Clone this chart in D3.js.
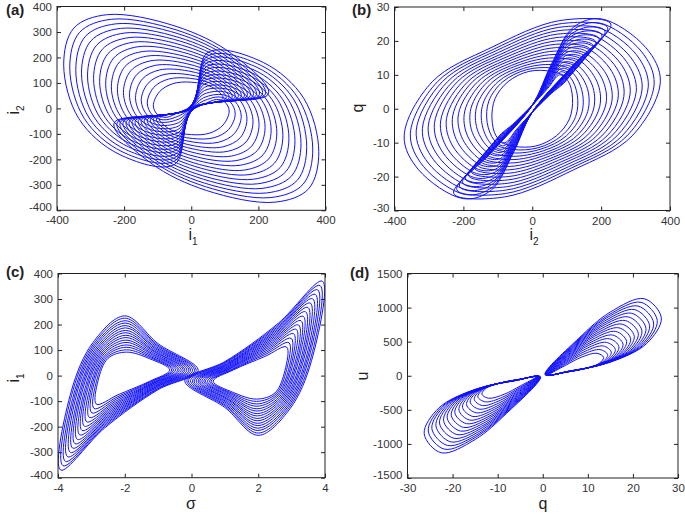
<!DOCTYPE html>
<html>
<head>
<meta charset="utf-8">
<script src="https://cdn.jsdelivr.net/npm/d3@7"></script>
<style>
  body { margin: 0; background: #fff; }
  svg text { font-family: "Liberation Sans", Arial, sans-serif; }
</style>
</head>
<body>
<div id="graph_plot"></div>
<script>
// ---- loops, each one a list of [x, y] points ----

// (a) i1 vs i2 : loops reaching the upper left, loops reaching the lower right
const loopsA_upper = [
  [[95,40],[60,85],[0,103],[-55,97],[-95,65],[-113,10],[-100,-25],[-75,-35],[-35,-15],[10,8]],
  [[104,41],[64,94],[-3,118],[-68,115],[-112,82],[-131,21],[-116,-26],[-84,-45],[-36,-29],[10,7]],
  [[113,42],[68,102],[-6,132],[-81,133],[-129,98],[-149,31],[-131,-27],[-94,-54],[-37,-42],[9,6]],
  [[122,44],[72,111],[-9,147],[-94,151],[-146,115],[-166,42],[-147,-28],[-103,-64],[-38,-56],[9,5]],
  [[131,45],[76,120],[-12,161],[-107,169],[-163,132],[-184,53],[-163,-29],[-112,-74],[-39,-70],[9,5]],
  [[140,46],[80,128],[-15,176],[-120,187],[-180,148],[-202,63],[-178,-30],[-122,-83],[-40,-83],[8,4]],
  [[149,47],[84,137],[-18,191],[-133,205],[-197,165],[-220,74],[-194,-31],[-131,-93],[-41,-97],[8,3]],
  [[158,48],[88,146],[-21,205],[-146,223],[-214,182],[-238,85],[-210,-32],[-140,-103],[-42,-111],[8,2]],
  [[167,50],[92,154],[-24,220],[-159,242],[-231,198],[-255,95],[-225,-33],[-150,-112],[-43,-124],[7,1]],
  [[176,51],[96,163],[-27,234],[-172,260],[-248,215],[-273,106],[-241,-34],[-159,-122],[-44,-138],[7,0]],
  [[185,52],[100,172],[-30,249],[-185,278],[-265,232],[-291,117],[-257,-35],[-168,-132],[-45,-152],[7,-1]],
  [[194,53],[104,180],[-33,264],[-198,296],[-282,248],[-309,127],[-272,-36],[-178,-141],[-46,-165],[6,-2]],
  [[203,54],[108,189],[-36,278],[-211,314],[-299,265],[-327,138],[-288,-37],[-187,-151],[-47,-179],[6,-2]],
  [[212,56],[112,198],[-39,293],[-224,332],[-316,282],[-344,149],[-304,-38],[-196,-161],[-48,-193],[6,-3]],
  [[221,57],[116,206],[-42,307],[-237,350],[-333,298],[-362,159],[-319,-39],[-206,-170],[-49,-206],[5,-4]],
  [[230,58],[120,215],[-45,322],[-250,368],[-350,315],[-380,170],[-335,-40],[-215,-180],[-50,-220],[5,-5]]
];
const loopsA_lower = [
  [[-95,-40],[-60,-85],[0,-103],[55,-97],[95,-65],[113,-10],[100,25],[75,35],[35,15],[-10,-8]],
  [[-104,-41],[-64,-94],[3,-118],[68,-115],[112,-82],[131,-21],[116,26],[84,45],[36,29],[-10,-7]],
  [[-113,-42],[-68,-102],[6,-132],[81,-133],[129,-98],[149,-31],[131,27],[94,54],[37,42],[-9,-6]],
  [[-122,-44],[-72,-111],[9,-147],[94,-151],[146,-115],[166,-42],[147,28],[103,64],[38,56],[-9,-5]],
  [[-131,-45],[-76,-120],[12,-161],[107,-169],[163,-132],[184,-53],[163,29],[112,74],[39,70],[-9,-5]],
  [[-140,-46],[-80,-128],[15,-176],[120,-187],[180,-148],[202,-63],[178,30],[122,83],[40,83],[-8,-4]],
  [[-149,-47],[-84,-137],[18,-191],[133,-205],[197,-165],[220,-74],[194,31],[131,93],[41,97],[-8,-3]],
  [[-158,-48],[-88,-146],[21,-205],[146,-223],[214,-182],[238,-85],[210,32],[140,103],[42,111],[-8,-2]],
  [[-167,-50],[-92,-154],[24,-220],[159,-242],[231,-198],[255,-95],[225,33],[150,112],[43,124],[-7,-1]],
  [[-176,-51],[-96,-163],[27,-234],[172,-260],[248,-215],[273,-106],[241,34],[159,122],[44,138],[-7,0]],
  [[-185,-52],[-100,-172],[30,-249],[185,-278],[265,-232],[291,-117],[257,35],[168,132],[45,152],[-7,1]],
  [[-194,-53],[-104,-180],[33,-264],[198,-296],[282,-248],[309,-127],[272,36],[178,141],[46,165],[-6,2]],
  [[-203,-54],[-108,-189],[36,-278],[211,-314],[299,-265],[327,-138],[288,37],[187,151],[47,179],[-6,2]],
  [[-212,-56],[-112,-198],[39,-293],[224,-332],[316,-282],[344,-149],[304,38],[196,161],[48,193],[-6,3]],
  [[-221,-57],[-116,-206],[42,-307],[237,-350],[333,-298],[362,-159],[319,39],[206,170],[49,206],[-5,4]],
  [[-230,-58],[-120,-215],[45,-322],[250,-368],[350,-315],[380,-170],[335,40],[215,180],[50,220],[-5,5]]
];

// (b) i2 vs q
const loopsB_right = [
  [[-100,-9],[-50,-4],[0,1],[45,6],[80,10],[105,8],[117,3],[108,-3],[70,-8],[10,-11],[-55,-11]],
  [[-109,-10.1],[-55,-4.6],[0,1],[46,6.5],[83,10.9],[111,9.2],[131,4],[126,-2.3],[85,-8],[17,-11.5],[-57,-12]],
  [[-117,-11.1],[-59,-5.2],[0,1],[46,6.9],[85,11.9],[118,10.5],[145,5],[143,-1.5],[99,-8],[25,-11.9],[-58,-13]],
  [[-126,-12.2],[-64,-5.8],[0,1],[47,7.4],[88,12.8],[124,11.7],[160,6],[161,-0.8],[114,-8],[32,-12.4],[-60,-14]],
  [[-134,-13.3],[-69,-6.4],[0,1],[48,7.9],[90,13.7],[130,12.9],[174,7],[178,-0.1],[129,-8],[39,-12.9],[-62,-15]],
  [[-143,-14.3],[-73,-7],[0,1],[48,8.3],[93,14.7],[137,14.2],[188,8],[196,0.7],[143,-8],[47,-13.3],[-63,-16]],
  [[-151,-15.4],[-78,-7.6],[0,1],[49,8.8],[96,15.6],[143,15.4],[202,9],[214,1.4],[158,-8],[54,-13.8],[-65,-17]],
  [[-160,-16.5],[-83,-8.2],[0,1],[50,9.3],[98,16.5],[149,16.6],[216,10],[231,2.1],[173,-8],[61,-14.3],[-67,-18]],
  [[-168,-17.5],[-87,-8.8],[0,1],[50,9.7],[101,17.5],[156,17.9],[231,11],[249,2.9],[187,-8],[69,-14.7],[-68,-19]],
  [[-177,-18.6],[-92,-9.4],[0,1],[51,10.2],[103,18.4],[162,19.1],[245,12],[266,3.6],[202,-8],[76,-15.2],[-70,-20]],
  [[-185,-19.7],[-97,-10],[0,1],[52,10.7],[106,19.3],[168,20.3],[259,13],[284,4.3],[217,-8],[83,-15.7],[-72,-21]],
  [[-194,-20.7],[-101,-10.6],[0,1],[52,11.1],[109,20.3],[175,21.6],[273,14],[302,5.1],[231,-8],[91,-16.1],[-73,-22]],
  [[-202,-21.8],[-106,-11.2],[0,1],[53,11.6],[111,21.2],[181,22.8],[287,15],[319,5.8],[246,-8],[98,-16.6],[-75,-23]],
  [[-211,-22.9],[-111,-11.8],[0,1],[54,12.1],[114,22.1],[187,24],[302,16],[337,6.5],[261,-8],[105,-17.1],[-77,-24]],
  [[-219,-23.9],[-115,-12.4],[0,1],[54,12.5],[116,23.1],[194,25.3],[316,17],[354,7.3],[275,-8],[113,-17.5],[-78,-25]],
  [[-228,-25],[-120,-13],[0,1],[55,13],[119,24],[200,26.5],[330,18],[372,8],[290,-8],[120,-18],[-80,-26]]
];
const loopsB_left = [
  [[100,9],[50,4],[0,-1],[-45,-6],[-80,-10],[-105,-8],[-117,-3],[-108,3],[-70,8],[-10,11],[55,11]],
  [[109,10.1],[55,4.6],[0,-1],[-46,-6.5],[-83,-10.9],[-111,-9.2],[-131,-4],[-126,2.3],[-85,8],[-17,11.5],[57,12]],
  [[117,11.1],[59,5.2],[0,-1],[-46,-6.9],[-85,-11.9],[-118,-10.5],[-145,-5],[-143,1.5],[-99,8],[-25,11.9],[58,13]],
  [[126,12.2],[64,5.8],[0,-1],[-47,-7.4],[-88,-12.8],[-124,-11.7],[-160,-6],[-161,0.8],[-114,8],[-32,12.4],[60,14]],
  [[134,13.3],[69,6.4],[0,-1],[-48,-7.9],[-90,-13.7],[-130,-12.9],[-174,-7],[-178,0.1],[-129,8],[-39,12.9],[62,15]],
  [[143,14.3],[73,7],[0,-1],[-48,-8.3],[-93,-14.7],[-137,-14.2],[-188,-8],[-196,-0.7],[-143,8],[-47,13.3],[63,16]],
  [[151,15.4],[78,7.6],[0,-1],[-49,-8.8],[-96,-15.6],[-143,-15.4],[-202,-9],[-214,-1.4],[-158,8],[-54,13.8],[65,17]],
  [[160,16.5],[83,8.2],[0,-1],[-50,-9.3],[-98,-16.5],[-149,-16.6],[-216,-10],[-231,-2.1],[-173,8],[-61,14.3],[67,18]],
  [[168,17.5],[87,8.8],[0,-1],[-50,-9.7],[-101,-17.5],[-156,-17.9],[-231,-11],[-249,-2.9],[-187,8],[-69,14.7],[68,19]],
  [[177,18.6],[92,9.4],[0,-1],[-51,-10.2],[-103,-18.4],[-162,-19.1],[-245,-12],[-266,-3.6],[-202,8],[-76,15.2],[70,20]],
  [[185,19.7],[97,10],[0,-1],[-52,-10.7],[-106,-19.3],[-168,-20.3],[-259,-13],[-284,-4.3],[-217,8],[-83,15.7],[72,21]],
  [[194,20.7],[101,10.6],[0,-1],[-52,-11.1],[-109,-20.3],[-175,-21.6],[-273,-14],[-302,-5.1],[-231,8],[-91,16.1],[73,22]],
  [[202,21.8],[106,11.2],[0,-1],[-53,-11.6],[-111,-21.2],[-181,-22.8],[-287,-15],[-319,-5.8],[-246,8],[-98,16.6],[75,23]],
  [[211,22.9],[111,11.8],[0,-1],[-54,-12.1],[-114,-22.1],[-187,-24],[-302,-16],[-337,-6.5],[-261,8],[-105,17.1],[77,24]],
  [[219,23.9],[115,12.4],[0,-1],[-54,-12.5],[-116,-23.1],[-194,-25.3],[-316,-17],[-354,-7.3],[-275,8],[-113,17.5],[78,25]],
  [[228,25],[120,13],[0,-1],[-55,-13],[-119,-24],[-200,-26.5],[-330,-18],[-372,-8],[-290,8],[-120,18],[80,26]]
];

// (c) sigma vs i1
const loopsC_left = [
  [[-2.85,-112],[-2.80,-20],[-2.50,68],[-1.95,92],[-1.25,66],[-0.65,22],[-1.25,-22],[-2.20,-75]],
  [[-2.92,-129],[-2.85,-23],[-2.53,72],[-1.95,101],[-1.23,70],[-0.59,22],[-1.23,-24],[-2.23,-84]],
  [[-2.99,-146],[-2.91,-25],[-2.56,76],[-1.96,111],[-1.22,74],[-0.54,22],[-1.22,-26],[-2.25,-92]],
  [[-3.06,-164],[-2.96,-28],[-2.59,80],[-1.96,120],[-1.20,78],[-0.48,22],[-1.20,-29],[-2.28,-101]],
  [[-3.14,-181],[-3.01,-31],[-2.62,85],[-1.96,130],[-1.18,82],[-0.42,21],[-1.18,-31],[-2.31,-110]],
  [[-3.21,-198],[-3.07,-33],[-2.65,89],[-1.97,139],[-1.17,86],[-0.37,21],[-1.17,-33],[-2.33,-118]],
  [[-3.28,-215],[-3.12,-36],[-2.68,93],[-1.97,149],[-1.15,90],[-0.31,21],[-1.15,-35],[-2.36,-127]],
  [[-3.35,-232],[-3.17,-39],[-2.71,97],[-1.97,158],[-1.13,94],[-0.25,21],[-1.13,-37],[-2.39,-136]],
  [[-3.42,-250],[-3.23,-41],[-2.74,101],[-1.98,168],[-1.12,97],[-0.20,21],[-1.12,-40],[-2.41,-144]],
  [[-3.49,-267],[-3.28,-44],[-2.77,105],[-1.98,177],[-1.10,101],[-0.14,21],[-1.10,-42],[-2.44,-153]],
  [[-3.56,-284],[-3.33,-47],[-2.80,109],[-1.98,187],[-1.08,105],[-0.08,21],[-1.08,-44],[-2.47,-162]],
  [[-3.63,-301],[-3.39,-49],[-2.83,113],[-1.99,196],[-1.07,109],[-0.03,21],[-1.07,-46],[-2.49,-170]],
  [[-3.71,-318],[-3.44,-52],[-2.86,118],[-1.99,206],[-1.05,113],[0.03,20],[-1.05,-48],[-2.52,-179]],
  [[-3.78,-336],[-3.49,-55],[-2.89,122],[-1.99,215],[-1.03,117],[0.09,20],[-1.03,-51],[-2.55,-188]],
  [[-3.85,-353],[-3.55,-57],[-2.92,126],[-2.00,225],[-1.02,121],[0.14,20],[-1.02,-53],[-2.57,-196]],
  [[-3.92,-370],[-3.60,-60],[-2.95,130],[-2.00,234],[-1.00,125],[0.20,20],[-1.00,-55],[-2.60,-205]]
];
const loopsC_right = [
  [[2.85,112],[2.80,20],[2.50,-68],[1.95,-92],[1.25,-66],[0.65,-22],[1.25,22],[2.20,75]],
  [[2.92,129],[2.85,23],[2.53,-72],[1.95,-101],[1.23,-70],[0.59,-22],[1.23,24],[2.23,84]],
  [[2.99,146],[2.91,25],[2.56,-76],[1.96,-111],[1.22,-74],[0.54,-22],[1.22,26],[2.25,92]],
  [[3.06,164],[2.96,28],[2.59,-80],[1.96,-120],[1.20,-78],[0.48,-22],[1.20,29],[2.28,101]],
  [[3.14,181],[3.01,31],[2.62,-85],[1.96,-130],[1.18,-82],[0.42,-21],[1.18,31],[2.31,110]],
  [[3.21,198],[3.07,33],[2.65,-89],[1.97,-139],[1.17,-86],[0.37,-21],[1.17,33],[2.33,118]],
  [[3.28,215],[3.12,36],[2.68,-93],[1.97,-149],[1.15,-90],[0.31,-21],[1.15,35],[2.36,127]],
  [[3.35,232],[3.17,39],[2.71,-97],[1.97,-158],[1.13,-94],[0.25,-21],[1.13,37],[2.39,136]],
  [[3.42,250],[3.23,41],[2.74,-101],[1.98,-168],[1.12,-97],[0.20,-21],[1.12,40],[2.41,144]],
  [[3.49,267],[3.28,44],[2.77,-105],[1.98,-177],[1.10,-101],[0.14,-21],[1.10,42],[2.44,153]],
  [[3.56,284],[3.33,47],[2.80,-109],[1.98,-187],[1.08,-105],[0.08,-21],[1.08,44],[2.47,162]],
  [[3.63,301],[3.39,49],[2.83,-113],[1.99,-196],[1.07,-109],[0.03,-21],[1.07,46],[2.49,170]],
  [[3.71,318],[3.44,52],[2.86,-118],[1.99,-206],[1.05,-113],[-0.03,-20],[1.05,48],[2.52,179]],
  [[3.78,336],[3.49,55],[2.89,-122],[1.99,-215],[1.03,-117],[-0.09,-20],[1.03,51],[2.55,188]],
  [[3.85,353],[3.55,57],[2.92,-126],[2.00,-225],[1.02,-121],[-0.14,-20],[1.02,53],[2.57,196]],
  [[3.92,370],[3.60,60],[2.95,-130],[2.00,-234],[1.00,-125],[-0.20,-20],[1.00,55],[2.60,205]]
];

// (d) q vs u
const loopsD_right = [
  [[1.5,15],[5.0,150],[8.5,270],[12.0,330],[13.5,270],[12.5,180],[9.0,100],[5.0,50]],
  [[1.4,15],[5.2,177],[8.9,314],[12.7,383],[14.4,309],[13.2,199],[9.4,107],[5.1,51]],
  [[1.4,15],[5.4,203],[9.4,359],[13.4,437],[15.2,347],[13.9,219],[9.8,113],[5.1,53]],
  [[1.3,15],[5.6,230],[9.8,403],[14.1,490],[16.1,386],[14.6,238],[10.2,120],[5.2,54]],
  [[1.2,15],[5.8,257],[10.2,447],[14.8,543],[16.9,425],[15.3,257],[10.6,127],[5.3,55]],
  [[1.2,15],[6.0,283],[10.7,492],[15.5,597],[17.8,463],[16.0,277],[11.0,133],[5.3,57]],
  [[1.1,15],[6.2,310],[11.1,536],[16.2,650],[18.6,502],[16.7,296],[11.4,140],[5.4,58]],
  [[1.0,15],[6.4,337],[11.5,580],[16.9,703],[19.5,541],[17.4,315],[11.8,147],[5.5,59]],
  [[1.0,15],[6.6,363],[12.0,625],[17.6,757],[20.3,579],[18.1,335],[12.2,153],[5.5,61]],
  [[0.9,15],[6.8,390],[12.4,669],[18.3,810],[21.2,618],[18.8,354],[12.6,160],[5.6,62]],
  [[0.8,15],[7.0,417],[12.8,713],[19.0,863],[22.0,657],[19.5,373],[13.0,167],[5.7,63]],
  [[0.8,15],[7.2,443],[13.3,758],[19.7,917],[22.9,695],[20.2,393],[13.4,173],[5.7,65]],
  [[0.7,15],[7.4,470],[13.7,802],[20.4,970],[23.7,734],[20.9,412],[13.8,180],[5.8,66]],
  [[0.6,15],[7.6,497],[14.1,846],[21.1,1023],[24.6,773],[21.6,431],[14.2,187],[5.9,67]],
  [[0.6,15],[7.8,523],[14.6,891],[21.8,1077],[25.4,811],[22.3,451],[14.6,193],[5.9,69]],
  [[0.5,15],[8.0,550],[15.0,935],[22.5,1130],[26.3,850],[23.0,470],[15.0,200],[6.0,70]]
];
const loopsD_left = [
  [[-1.5,-15],[-5.0,-150],[-8.5,-270],[-12.0,-330],[-13.5,-270],[-12.5,-180],[-9.0,-100],[-5.0,-50]],
  [[-1.4,-15],[-5.2,-177],[-8.9,-314],[-12.7,-383],[-14.4,-309],[-13.2,-199],[-9.4,-107],[-5.1,-51]],
  [[-1.4,-15],[-5.4,-203],[-9.4,-359],[-13.4,-437],[-15.2,-347],[-13.9,-219],[-9.8,-113],[-5.1,-53]],
  [[-1.3,-15],[-5.6,-230],[-9.8,-403],[-14.1,-490],[-16.1,-386],[-14.6,-238],[-10.2,-120],[-5.2,-54]],
  [[-1.2,-15],[-5.8,-257],[-10.2,-447],[-14.8,-543],[-16.9,-425],[-15.3,-257],[-10.6,-127],[-5.3,-55]],
  [[-1.2,-15],[-6.0,-283],[-10.7,-492],[-15.5,-597],[-17.8,-463],[-16.0,-277],[-11.0,-133],[-5.3,-57]],
  [[-1.1,-15],[-6.2,-310],[-11.1,-536],[-16.2,-650],[-18.6,-502],[-16.7,-296],[-11.4,-140],[-5.4,-58]],
  [[-1.0,-15],[-6.4,-337],[-11.5,-580],[-16.9,-703],[-19.5,-541],[-17.4,-315],[-11.8,-147],[-5.5,-59]],
  [[-1.0,-15],[-6.6,-363],[-12.0,-625],[-17.6,-757],[-20.3,-579],[-18.1,-335],[-12.2,-153],[-5.5,-61]],
  [[-0.9,-15],[-6.8,-390],[-12.4,-669],[-18.3,-810],[-21.2,-618],[-18.8,-354],[-12.6,-160],[-5.6,-62]],
  [[-0.8,-15],[-7.0,-417],[-12.8,-713],[-19.0,-863],[-22.0,-657],[-19.5,-373],[-13.0,-167],[-5.7,-63]],
  [[-0.8,-15],[-7.2,-443],[-13.3,-758],[-19.7,-917],[-22.9,-695],[-20.2,-393],[-13.4,-173],[-5.7,-65]],
  [[-0.7,-15],[-7.4,-470],[-13.7,-802],[-20.4,-970],[-23.7,-734],[-20.9,-412],[-13.8,-180],[-5.8,-66]],
  [[-0.6,-15],[-7.6,-497],[-14.1,-846],[-21.1,-1023],[-24.6,-773],[-21.6,-431],[-14.2,-187],[-5.9,-67]],
  [[-0.6,-15],[-7.8,-523],[-14.6,-891],[-21.8,-1077],[-25.4,-811],[-22.3,-451],[-14.6,-193],[-5.9,-69]],
  [[-0.5,-15],[-8.0,-550],[-15.0,-935],[-22.5,-1130],[-26.3,-850],[-23.0,-470],[-15.0,-200],[-6.0,-70]]
];

// tick values
const ticksI = [-400, -200, 0, 200, 400];
const ticksI100 = [-400, -300, -200, -100, 0, 100, 200, 300, 400];
const ticksQ = [-30, -20, -10, 0, 10, 20, 30];
const ticksSigma = [-4, -2, 0, 2, 4];
const ticksU = [-1500, -1000, -500, 0, 500, 1000, 1500];

// ---- drawing ----
var svg = d3.select("#graph_plot").append("svg")
    .attr("width", 685).attr("height", 514);

function drawPanel(p) {
  var x = d3.scaleLinear().domain(p.xDomain).range([p.left, p.right]);
  var y = d3.scaleLinear().domain(p.yDomain).range([p.bottom, p.top]);
  var g = svg.append("g");

  var clipId = "clip_" + p.name;
  g.append("clipPath").attr("id", clipId).append("rect")
      .attr("x", p.left).attr("y", p.top)
      .attr("width", p.right - p.left).attr("height", p.bottom - p.top);

  var line = d3.line()
      .x(function(d) { return x(d[0]); })
      .y(function(d) { return y(d[1]); })
      .curve(d3.curveCatmullRomClosed.alpha(0.5));

  g.append("g").attr("clip-path", "url(#" + clipId + ")")
    .selectAll("path")
    .data(p.loops)
    .enter()
    .append("path")
      .attr("d", line)
      .attr("fill", "none")
      .attr("stroke", "#1010ff")
      .attr("stroke-width", 1);

  // frame
  g.append("rect")
      .attr("x", p.left).attr("y", p.top)
      .attr("width", p.right - p.left).attr("height", p.bottom - p.top)
      .attr("fill", "none").attr("stroke", "#222").attr("stroke-width", 1);

  var fmt = function(d) { return String(d); };
  var styleAxis = function(sel) {
    sel.select(".domain").remove();
    sel.selectAll(".tick line").attr("stroke", "#222");
    sel.selectAll(".tick text").attr("fill", "#333").attr("font-size", "11.5px")
       .attr("font-family", "Liberation Sans, Arial, sans-serif");
  };
  // inward ticks on all four sides, labels bottom and left
  g.append("g").attr("transform", `translate(0,${p.bottom})`)
    .call(d3.axisBottom(x).tickValues(p.xTicks).tickSize(-4).tickPadding(6).tickFormat(fmt))
    .call(styleAxis);
  g.append("g").attr("transform", `translate(0,${p.top})`)
    .call(d3.axisTop(x).tickValues(p.xTicks).tickSize(-4).tickFormat(""))
    .call(styleAxis);
  g.append("g").attr("transform", `translate(${p.left},0)`)
    .call(d3.axisLeft(y).tickValues(p.yTicks).tickSize(-4).tickPadding(5).tickFormat(fmt))
    .call(styleAxis)
    .selectAll(".tick text")
      .filter(function(d) { return d === p.yDomain[0]; })
      .attr("y", -3);   // lowest label sits a little above the corner
  g.append("g").attr("transform", `translate(${p.right},0)`)
    .call(d3.axisRight(y).tickValues(p.yTicks).tickSize(-4).tickFormat(""))
    .call(styleAxis);

  // axis titles
  var xt = g.append("text")
      .attr("x", p.xTitlePos[0]).attr("y", p.xTitlePos[1])
      .attr("text-anchor", "middle").attr("font-size", "16px").attr("fill", "#222")
      .text(p.xTitle[0]);
  if (p.xTitle[1]) xt.append("tspan").attr("font-size", "10px").attr("dy", 5).text(p.xTitle[1]);

  var yt = g.append("text")
      .attr("transform", `translate(${p.yTitlePos[0]},${p.yTitlePos[1]}) rotate(-90)`)
      .attr("text-anchor", "middle").attr("font-size", "16px").attr("fill", "#222")
      .text(p.yTitle[0]);
  if (p.yTitle[1]) yt.append("tspan").attr("font-size", "10px").attr("dy", 5).text(p.yTitle[1]);

  // panel letter
  g.append("text")
      .attr("x", p.labelPos[0]).attr("y", p.labelPos[1])
      .attr("font-family", "Liberation Serif, Times New Roman, serif")
      .attr("font-weight", "bold").attr("font-size", "15px").attr("fill", "#222")
      .text(p.label);
}

drawPanel({
  name: "a", label: "(a)", labelPos: [6, 15],
  left: 57, right: 325.5, top: 6.5, bottom: 210.3,
  xDomain: [-400, 400], yDomain: [-400, 400], xTicks: ticksI, yTicks: ticksI100,
  loops: loopsA_upper.concat(loopsA_lower),
  xTitle: ["i", "1"], xTitlePos: [193, 240],
  yTitle: ["i", "2"], yTitlePos: [19, 110]
});
drawPanel({
  name: "b", label: "(b)", labelPos: [352, 15],
  left: 394.5, right: 670, top: 7, bottom: 210.5,
  xDomain: [-400, 400], yDomain: [-30, 30], xTicks: ticksI, yTicks: ticksQ,
  loops: loopsB_right.concat(loopsB_left),
  xTitle: ["i", "2"], xTitlePos: [534, 240],
  yTitle: ["q"], yTitlePos: [363, 108]
});
drawPanel({
  name: "c", label: "(c)", labelPos: [6, 277],
  left: 58, right: 325, top: 273.5, bottom: 477.7,
  xDomain: [-4, 4], yDomain: [-400, 400], xTicks: ticksSigma, yTicks: ticksI100,
  loops: loopsC_left.concat(loopsC_right),
  xTitle: ["σ"], xTitlePos: [191, 509],
  yTitle: ["i", "1"], yTitlePos: [19, 378]
});
drawPanel({
  name: "d", label: "(d)", labelPos: [350, 278],
  left: 407.5, right: 678, top: 273.5, bottom: 478,
  xDomain: [-30, 30], yDomain: [-1500, 1500], xTicks: ticksQ, yTicks: ticksU,
  loops: loopsD_right.concat(loopsD_left),
  xTitle: ["q"], xTitlePos: [543, 509],
  yTitle: ["u"], yTitlePos: [368, 376]
});
</script>
</body>
</html>
